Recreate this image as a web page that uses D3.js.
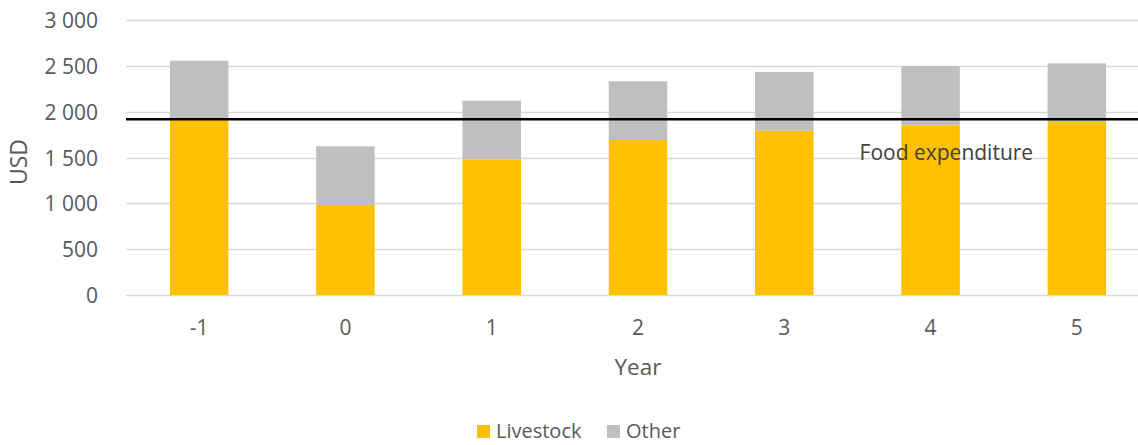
<!DOCTYPE html>
<html>
<head>
<meta charset="utf-8">
<script src="https://cdn.jsdelivr.net/npm/d3@7/dist/d3.min.js"></script>
<style>
  html, body { margin: 0; padding: 0; background: #fff; }
  svg { display: block; font-family: "Open Sans", sans-serif; }
</style>
</head>
<body>
<svg id="chart" width="1138" height="445"></svg>
<script>
const years = ["-1", "0", "1", "2", "3", "4", "5"];
const livestock = [1918, 982, 1480, 1690, 1792, 1852, 1887];
const other = [638, 640, 640, 641, 641, 646, 640];
const yTicks = [0, 500, 1000, 1500, 2000, 2500, 3000];
const foodExpenditure = 1918;
const seriesNames = ["Livestock", "Other"];
const colors = ["#FFC000", "#BFBFBF"];

const svg = d3.select("#chart");
const W = 1138, H = 445;
const mLeft = 126, mRight = 1150, mTop = 20, mBottom = 295;

const x = d3.scaleBand().domain(years).range([mLeft, mRight]).paddingInner(0.6).paddingOuter(0.3);
const y = d3.scaleLinear().domain([0, 3000]).range([mBottom, mTop]);

const fmt = v => d3.format(",")(v).replace(/,/g, " ");

// gridlines
svg.append("g").selectAll("line").data(yTicks).join("line")
  .attr("x1", mLeft).attr("x2", W)
  .attr("y1", d => Math.round(y(d)) + 0.5).attr("y2", d => Math.round(y(d)) + 0.5)
  .attr("stroke", "#d9d9d9").attr("stroke-width", 1.3);

// y axis labels
const yAxis = d3.axisLeft(y).tickValues(yTicks).tickFormat(fmt).tickSize(0).tickPadding(0);
const ya = svg.append("g").attr("transform", `translate(${mLeft - 28},0)`).call(yAxis);
ya.select(".domain").remove();
ya.selectAll("text").attr("fill", "#595959").attr("dy", "0.36em")
  .style("font-size", "21px").style("font-family", "Open Sans");

// stacked bars
const stackData = years.map((yr, i) => ({ year: yr, Livestock: livestock[i], Other: other[i] }));
const stacked = d3.stack().keys(seriesNames)(stackData);
svg.append("g").selectAll("g").data(stacked).join("g")
  .attr("fill", (d, i) => colors[i])
  .selectAll("rect").data(d => d).join("rect")
  .attr("x", d => x(d.data.year))
  .attr("width", x.bandwidth())
  .attr("y", d => y(d[1]))
  .attr("height", d => y(d[0]) - y(d[1]));

// x axis labels
const xAxis = d3.axisBottom(x).tickSize(0).tickPadding(0);
const xa = svg.append("g").attr("transform", `translate(0,${mBottom + 25})`).call(xAxis);
xa.select(".domain").remove();
xa.selectAll("text").attr("fill", "#595959").style("font-size", "21px").style("font-family", "Open Sans");

// food expenditure line
svg.append("line")
  .attr("x1", mLeft).attr("x2", W)
  .attr("y1", y(foodExpenditure)).attr("y2", y(foodExpenditure))
  .attr("stroke", "#000").attr("stroke-width", 2.5);

svg.append("text")
  .attr("x", x("4") + x.bandwidth() / 2 - 71)
  .attr("y", y(foodExpenditure) + 41)
  .attr("fill", "#404040").style("font-size", "21px")
  .text("Food expenditure");

// axis titles
svg.append("text")
  .attr("x", 638).attr("y", 375)
  .attr("text-anchor", "middle").attr("fill", "#595959").style("font-size", "22.5px")
  .text("Year");
svg.append("text")
  .attr("transform", `translate(27,162) rotate(-90)`)
  .attr("text-anchor", "middle").attr("fill", "#595959").style("font-size", "23px")
  .text("USD");

// legend
const legendItems = [{ name: "Livestock", x0: 477 }, { name: "Other", x0: 607 }];
const lg = svg.append("g");
legendItems.forEach((it, i) => {
  lg.append("rect").attr("x", it.x0).attr("y", 425).attr("width", 13).attr("height", 13).attr("fill", colors[i]);
  lg.append("text").attr("x", it.x0 + 19).attr("y", 438).attr("fill", "#595959").style("font-size", "20px").text(it.name);
});
</script>
</body>
</html>
